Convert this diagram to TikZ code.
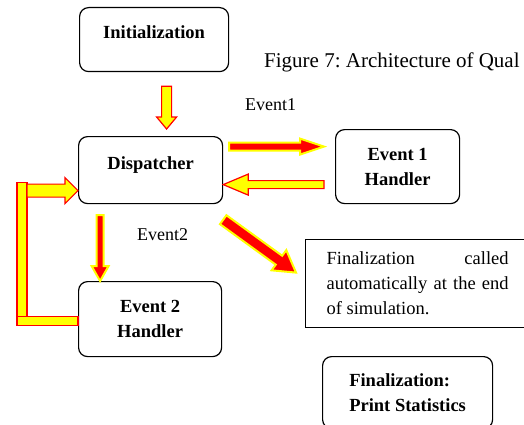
\documentclass[tikz,border=0pt]{standalone}
\usepackage{fontspec}
\setmainfont{Liberation Serif}
\usetikzlibrary{calc}
\definecolor{arrowRed}{HTML}{FF0000}
\definecolor{arrowYellow}{HTML}{FFFF00}
\frenchspacing
% block arrow: [style]{from}{to}{half shaft}{half head}{head length}
\newcommand{\blockarrow}[6][]{%
  \draw[#1] let \p1=(#2), \p2=(#3),
    \n1={atan2(\y2-\y1,\x2-\x1)}, \n2={veclen(\x2-\x1,\y2-\y1)} in
    ($(\p1)+(\n1+90:#4)$) -- ($(\p1)+(\n1:\n2-#6)+(\n1+90:#4)$)
    -- ($(\p1)+(\n1:\n2-#6)+(\n1+90:#5)$) -- (\p2)
    -- ($(\p1)+(\n1:\n2-#6)+(\n1-90:#5)$) -- ($(\p1)+(\n1:\n2-#6)+(\n1-90:#4)$)
    -- ($(\p1)+(\n1-90:#4)$) -- cycle;}

\begin{document}
\begin{tikzpicture}[x=1pt,y=1pt,
  font=\fontsize{18.5}{25}\selectfont,
  box/.style={rectangle,rounded corners=9pt,draw=black,line width=1.2pt,anchor=north west,align=center,font=\fontsize{18.5}{25}\selectfont\bfseries},
  onebox/.style={box,text depth=15pt},
  note/.style={rectangle,draw=black,line width=1.2pt,anchor=north west,text width=182pt,inner xsep=21pt,minimum height=88pt,align=justify},
  lbl/.style={inner sep=0pt,anchor=base west,font=\fontsize{18}{22}\selectfont},
  yarrow/.style={fill=arrowYellow,draw=arrowRed,line width=1.2pt},
  rarrow/.style={fill=arrowRed,draw=arrowYellow,line width=2pt}
]
\useasboundingbox (0,0) rectangle (524,-425);
\clip (0,0) rectangle (524,-425);
% boxes placed by their top-left corners, arrows hang off the box anchors
\node[onebox,minimum width=149pt,minimum height=64pt] (init) at (79,-7) {Initialization};
\node[onebox,minimum width=144pt,minimum height=67pt] (disp) at (78,-136) {Dispatcher};
\node[box,minimum width=124pt,minimum height=74pt] (ev1) at (335,-129) {Event 1\\Handler};
\node[box,minimum width=143pt,minimum height=75pt] (ev2) at (78,-281) {Event 2\\Handler};
\node[box,minimum width=170pt,minimum height=72pt,align=left] (final) at (322,-356) {Finalization:\\Print Statistics};
\node[note] (note) at (305,-239) {Finalization called\linebreak automatically at the end of simulation.};
\node[lbl,font=\fontsize{21}{25}\selectfont] (caption) at (264,-68) {Figure 7: Architecture of Qual};
\node[lbl] (ev1lbl) at (245,-110.5) {Event1};
\node[lbl] (ev2lbl) at (137,-240.3) {Event2};
\blockarrow[yarrow]{$(init.south)+(12.5,-14)$}{$(disp.north)+(16,7)$}{5}{10}{12}
\blockarrow[rarrow]{$(disp.east)+(6,23.5)$}{$(ev1.west)+(-11,20)$}{4}{8}{24}
\blockarrow[yarrow]{$(ev1.west)+(-11,-18)$}{$(disp.east)+(0,-14.5)$}{4}{10.5}{25}
\blockarrow[rarrow]{$(disp.south)+(-50.5,-11)$}{$(ev2.north)+(-50,0)$}{3.5}{8.5}{15}
\blockarrow[rarrow]{$(disp.south east)+(0,-15.5)$}{$(note.west)+(-9,11)$}{5.5}{12.5}{21}
% loop back from Event 2 Handler to Dispatcher
\draw[yarrow] ($(disp.west)+(-61,-12.5)$) rectangle ($(ev2.west)+(-51,-6.5)$);
\draw[yarrow] ($(ev2.west)+(-61,2.5)$) rectangle ($(ev2.west)+(0,-6.5)$);
\blockarrow[yarrow]{$(disp.west)+(-51,-20.5)$}{$(disp.west)+(0,-20.5)$}{6.5}{13}{13}
\end{tikzpicture}
\end{document}
